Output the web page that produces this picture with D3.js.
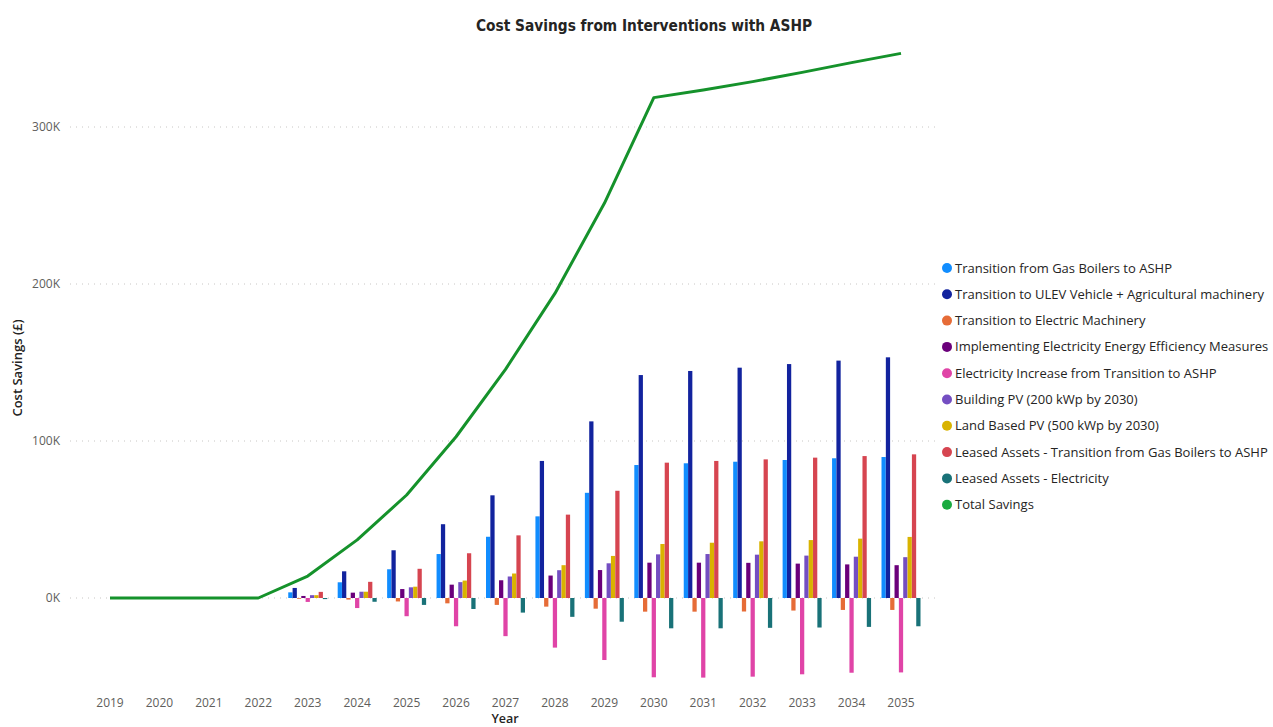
<!DOCTYPE html>
<html>
<head>
<meta charset="utf-8">
<script src="https://cdn.jsdelivr.net/npm/d3@7"></script>
<style>
  body { margin: 0; background: #fff; }
  text { font-family: 'Segoe UI', 'Open Sans', sans-serif; }
</style>
</head>
<body>
<div id="chart"></div>
<script>
const years = ['2019', '2020', '2021', '2022', '2023', '2024', '2025', '2026', '2027',
  '2028', '2029', '2030', '2031', '2032', '2033', '2034', '2035']

const seriesNames = [
  'Transition from Gas Boilers to ASHP',
  'Transition to ULEV Vehicle + Agricultural machinery',
  'Transition to Electric Machinery',
  'Implementing Electricity Energy Efficiency Measures',
  'Electricity Increase from Transition to ASHP',
  'Building PV (200 kWp by 2030)',
  'Land Based PV (500 kWp by 2030)',
  'Leased Assets - Transition from Gas Boilers to ASHP',
  'Leased Assets - Electricity'
]
const seriesColors = ['#118DFF', '#12239E', '#E66C37', '#6B007B', '#E044A7',
  '#744EC2', '#D9B300', '#D64550', '#197278']

// values in thousands of £, 2019..2035
const gasBoilers = [0, 0, 0, 0, 3.6, 10, 18.3, 28, 39, 52, 67, 84.7, 85.8, 86.8, 87.9, 89, 89.8]
const ulev = [0, 0, 0, 0, 6.4, 17, 30.4, 47, 65.4, 87.3, 112.5, 142, 144.6, 146.7, 149, 151.2, 153.3]
const electricMachinery = [0, 0, 0, 0, -0.5, -1, -2.2, -3.4, -4.4, -5.5, -6.8, -8.7, -8.7, -8.6, -8, -7.6, -7.6]
const efficiency = [0, 0, 0, 0, 1.3, 3.4, 5.7, 8.5, 11.3, 14.3, 17.8, 22.5, 22.5, 22.4, 21.9, 21.4, 20.9]
const elecIncrease = [0, 0, 0, 0, -2.5, -6.4, -11.6, -18, -24.3, -31.6, -39.5, -50.5, -50.7, -50.1, -48.6, -47.6, -47.4]
const buildingPV = [0, 0, 0, 0, 1.8, 4, 6.8, 10.1, 13.7, 17.7, 22.1, 27.8, 28, 27.6, 27, 26.3, 26]
const landPV = [0, 0, 0, 0, 1.8, 4, 7.2, 11.1, 15.6, 20.9, 26.8, 34.4, 35.2, 36.1, 36.9, 37.8, 38.9]
const leasedGas = [0, 0, 0, 0, 3.9, 10.3, 18.6, 28.5, 39.9, 53.1, 68.3, 86.2, 87.3, 88.3, 89.4, 90.4, 91.5]
const leasedElec = [0, 0, 0, 0, -0.7, -2.4, -4.4, -7, -9.3, -12, -15.1, -19.3, -19.3, -19, -18.8, -18.4, -18]
const totalSavings = [0, 0, 0, 0, 14, 37, 65.6, 102.7, 145.6, 194, 251.4, 318.7, 323.6, 328.9, 334.8, 341, 346.9]

const yTicks = [0, 100, 200, 300]

const seriesValues = [gasBoilers, ulev, electricMachinery, efficiency, elecIncrease,
  buildingPV, landPV, leasedGas, leasedElec]

const width = 1273
const height = 727

const svg = d3
  .select('#chart')
  .append('svg')
  .attr('width', width)
  .attr('height', height)

const xPositionScale = d3.scalePoint().domain(years).range([110, 901])
const barScale = d3.scaleBand().domain(seriesNames).range([-19.5, 19.5]).paddingInner(0.02)
const yScale = d3.scaleLinear().domain([0, 300]).range([598, 127])

// title
svg.append('text')
  .attr('x', 644)
  .attr('y', 31)
  .attr('text-anchor', 'middle')
  .style('font-family', "'DejaVu Sans Condensed', sans-serif")
  .style('font-weight', 'bold')
  .style('font-size', '15.3px')
  .attr('fill', '#252423')
  .text('Cost Savings from Interventions with ASHP')

// gridlines
svg.selectAll('.grid')
  .data(yTicks)
  .enter()
  .append('line')
  .attr('x1', 70)
  .attr('x2', 940)
  .attr('y1', d => yScale(d))
  .attr('y2', d => yScale(d))
  .attr('stroke', '#c8c6c4')
  .attr('stroke-width', 1)
  .attr('stroke-dasharray', '1,5')

svg.selectAll('.y-label')
  .data(yTicks)
  .enter()
  .append('text')
  .attr('x', 60)
  .attr('y', d => yScale(d))
  .attr('dy', '0.35em')
  .attr('text-anchor', 'end')
  .style('font-size', '12px')
  .attr('fill', '#605E5C')
  .text(d => d + 'K')

svg.append('text')
  .attr('transform', 'translate(22, 368) rotate(-90)')
  .attr('text-anchor', 'middle')
  .style('font-size', '13px')
  .style('font-weight', '600')
  .attr('fill', '#252423')
  .text('Cost Savings (£)')

// bars
const bars = []
seriesValues.forEach((vals, i) => {
  vals.forEach((v, j) => {
    bars.push({ series: seriesNames[i], color: seriesColors[i], year: years[j], value: v })
  })
})

svg.selectAll('.bar')
  .data(bars.filter(d => d.value !== 0))
  .enter()
  .append('rect')
  .attr('x', d => xPositionScale(d.year) + barScale(d.series))
  .attr('width', barScale.bandwidth())
  .attr('y', d => yScale(Math.max(0, d.value)))
  .attr('height', d => Math.abs(yScale(d.value) - yScale(0)))
  .attr('fill', d => d.color)

// total line
const line = d3.line()
  .x((d, i) => xPositionScale(years[i]))
  .y(d => yScale(d))

svg.append('path')
  .datum(totalSavings)
  .attr('d', line)
  .attr('fill', 'none')
  .attr('stroke', '#15922B')
  .attr('stroke-width', 3)
  .attr('stroke-linejoin', 'round')

// x axis labels
svg.selectAll('.x-label')
  .data(years)
  .enter()
  .append('text')
  .attr('x', d => xPositionScale(d))
  .attr('y', 707)
  .attr('text-anchor', 'middle')
  .style('font-size', '12px')
  .attr('fill', '#605E5C')
  .text(d => d)

svg.append('text')
  .attr('x', 505)
  .attr('y', 723)
  .attr('text-anchor', 'middle')
  .style('font-size', '12.5px')
  .style('font-weight', '600')
  .attr('fill', '#252423')
  .text('Year')

// legend
const legendItems = seriesNames.map((n, i) => ({ name: n, color: seriesColors[i] }))
legendItems.push({ name: 'Total Savings', color: '#1AAB40' })

const legend = svg.selectAll('.legend')
  .data(legendItems)
  .enter()
  .append('g')
  .attr('transform', (d, i) => `translate(947, ${268 + i * 26.3})`)

legend.append('circle')
  .attr('r', 5)
  .attr('fill', d => d.color)

legend.append('text')
  .attr('x', 8)
  .attr('dy', '0.35em')
  .style('font-size', '13px')
  .attr('fill', '#252423')
  .text(d => d.name)
</script>
</body>
</html>
